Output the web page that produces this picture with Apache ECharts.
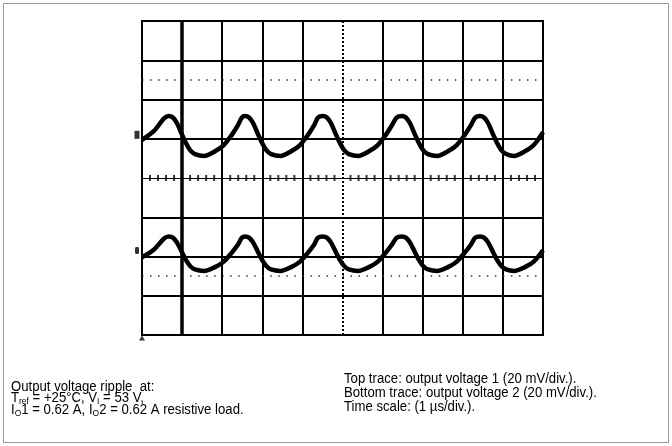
<!DOCTYPE html>
<html>
<head>
<meta charset="utf-8">
<script src="https://cdn.jsdelivr.net/npm/echarts@6/dist/echarts.min.js"></script>
<style>
  html, body { margin: 0; padding: 0; background: #fff; }
  #main { width: 672px; height: 446px; }
</style>
</head>
<body>
<div id="main"></div>
<script>
// time in divisions (1 us/div), values in divisions (20 mV/div)
var timeDiv = [0, 0.3, 0.55,
  0.67, 0.77, 0.87, 1.00, 1.09, 1.20, 1.32, 1.55, 1.82, 2.04, 2.24, 2.39, 2.49,
  2.57, 2.67, 2.77, 2.90, 2.99, 3.10, 3.22, 3.45, 3.72, 3.94, 4.14, 4.29, 4.39,
  4.51, 4.61, 4.71, 4.84, 4.93, 5.04, 5.16, 5.39, 5.66, 5.88, 6.08, 6.23, 6.35,
  6.48, 6.58, 6.68, 6.81, 6.90, 7.01, 7.13, 7.36, 7.63, 7.85, 8.05, 8.20, 8.31,
  8.43, 8.53, 8.63, 8.76, 8.85, 8.96, 9.08, 9.28, 9.55, 9.77, 10.0];

var trace1 = [0.97, 1.20, 1.52,
  1.58, 1.54, 1.40, 1.10, 0.90, 0.71, 0.61, 0.56, 0.68, 0.84, 1.10, 1.34, 1.54,
  1.58, 1.54, 1.40, 1.10, 0.90, 0.71, 0.61, 0.56, 0.68, 0.84, 1.10, 1.34, 1.54,
  1.58, 1.54, 1.40, 1.10, 0.90, 0.71, 0.61, 0.56, 0.68, 0.84, 1.10, 1.34, 1.54,
  1.58, 1.54, 1.40, 1.10, 0.90, 0.71, 0.61, 0.56, 0.68, 0.84, 1.10, 1.34, 1.54,
  1.58, 1.54, 1.40, 1.10, 0.90, 0.71, 0.61, 0.56, 0.68, 0.84, 1.17];

var trace2 = [-2.02, -1.82, -1.54,
  -1.49, -1.52, -1.64, -1.90, -2.08, -2.24, -2.33, -2.37, -2.27, -2.13, -1.90, -1.70, -1.52,
  -1.49, -1.52, -1.64, -1.90, -2.08, -2.24, -2.33, -2.37, -2.27, -2.13, -1.90, -1.70, -1.52,
  -1.49, -1.52, -1.64, -1.90, -2.08, -2.24, -2.33, -2.37, -2.27, -2.13, -1.90, -1.70, -1.52,
  -1.49, -1.52, -1.64, -1.90, -2.08, -2.24, -2.33, -2.37, -2.27, -2.13, -1.90, -1.70, -1.52,
  -1.49, -1.52, -1.64, -1.90, -2.08, -2.24, -2.33, -2.37, -2.27, -2.13, -1.84];

// channel ground markers
var chLevels = [1.1, -1.85];

var vLines = [2, 3, 4, 6, 7, 8, 9];
var hLines = [-3, -2, -1, 1, 2, 3];
var dotLines = [2.5, -2.5];

var font = '"Liberation Sans", Arial, sans-serif';

function pairs(xs, ys) {
  var out = [];
  for (var i = 0; i < xs.length; i++) out.push([xs[i], ys[i]]);
  return out;
}

var ticks = [];
for (var k = 1; k < 50; k++) {
  if (k % 5 !== 0) ticks.push([k / 5, 0]);
}

var myChart = echarts.init(document.getElementById('main'), null, { renderer: 'canvas' });

var markLines = [];
vLines.forEach(function (v) {
  markLines.push({ xAxis: v, lineStyle: { width: 2, type: 'solid', color: '#000' } });
});
markLines.push({ xAxis: 1, lineStyle: { width: 3.5, type: 'solid', color: '#000' } });
markLines.push({ xAxis: 5, lineStyle: { width: 2, type: [2, 2], color: '#000' } });
hLines.forEach(function (v) {
  markLines.push({ yAxis: v, lineStyle: { width: 2, type: 'solid', color: '#000' } });
});
markLines.push({ yAxis: 0, lineStyle: { width: 1, type: 'solid', color: '#000' } });
dotLines.forEach(function (v) {
  markLines.push({ yAxis: v, lineStyle: { width: 1.5, type: [1.5, 6.52], color: '#333' } });
});

function txt(left, top, text) {
  return {
    type: 'text', left: left, top: top, scaleX: 0.94,
    style: {
      text: text, font: '14px ' + font, fill: '#000',
      rich: { s: { fontSize: 9, fontFamily: font, padding: [7, 0, 0, 0], fill: '#000' } }
    }
  };
}

myChart.setOption({
  animation: false,
  backgroundColor: '#fff',
  grid: {
    left: 142, top: 21, right: 129, bottom: 111,
    show: true, borderColor: '#000', borderWidth: 2, backgroundColor: 'transparent'
  },
  xAxis: {
    type: 'value', min: 0, max: 10, interval: 1,
    axisLine: { show: false }, axisTick: { show: false },
    axisLabel: { show: false }, splitLine: { show: false }
  },
  yAxis: {
    type: 'value', min: -4, max: 4, interval: 1,
    axisLine: { show: false }, axisTick: { show: false },
    axisLabel: { show: false }, splitLine: { show: false }
  },
  series: [
    {
      name: 'graticule',
      type: 'line',
      data: [],
      silent: true,
      markLine: {
        silent: true,
        symbol: 'none',
        label: { show: false },
        data: markLines
      }
    },
    {
      name: 'ticks',
      type: 'scatter',
      data: ticks,
      symbol: 'rect',
      symbolSize: [2, 6],
      itemStyle: { color: '#000' },
      silent: true
    },
    {
      name: 'Output voltage 1',
      type: 'line',
      data: pairs(timeDiv, trace1),
      showSymbol: false,
      smooth: 0.3,
      lineStyle: { color: '#000', width: 4.5 },
      silent: true
    },
    {
      name: 'Output voltage 2',
      type: 'line',
      data: pairs(timeDiv, trace2),
      showSymbol: false,
      smooth: 0.3,
      lineStyle: { color: '#000', width: 4.5 },
      silent: true
    },
    {
      name: 'markers',
      type: 'scatter',
      clip: false,
      silent: true,
      data: [
        { value: [0, chLevels[0]], symbol: 'rect', symbolSize: [5, 8], symbolOffset: [-5, 0] },
        { value: [0, chLevels[1]], symbol: 'roundRect', symbolSize: [4, 7], symbolOffset: [-5, 0] },
        { value: [0, -4], symbol: 'triangle', symbolSize: [6, 5], symbolOffset: [0, 3] }
      ],
      itemStyle: { color: '#000' }
    }
  ],
  graphic: [
    {
      type: 'rect',
      shape: { x: 3.5, y: 3.5, width: 665, height: 439 },
      style: { fill: 'none', stroke: '#999', lineWidth: 1 },
      silent: true
    },
    txt(11, 380, 'Output voltage ripple  at:'),
    txt(11, 391, 'T{s|ref} = +25°C, V{s|I} = 53 V,'),
    txt(11, 403, 'I{s|O}1 = 0.62 A, I{s|O}2 = 0.62 A resistive load.'),
    txt(344, 372, 'Top trace: output voltage 1 (20 mV/div.).'),
    txt(344, 386, 'Bottom trace: output voltage 2 (20 mV/div.).'),
    txt(344, 400, 'Time scale: (1 µs/div.).')
  ]
});
</script>
</body>
</html>
